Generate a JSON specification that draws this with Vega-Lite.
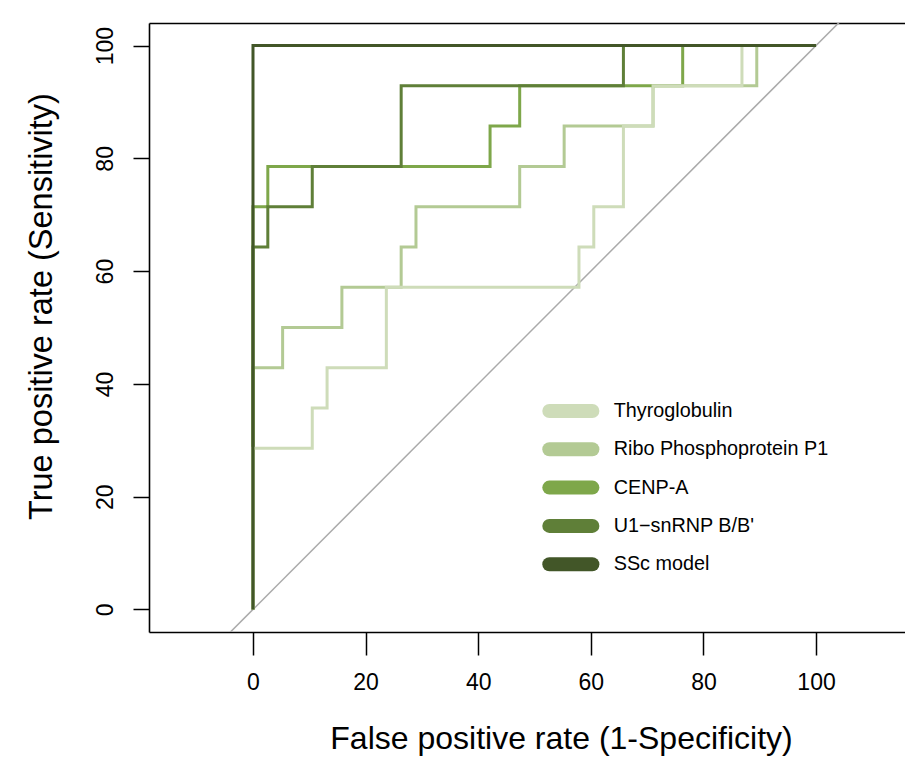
{
  "$schema": "https://vega.github.io/schema/vega-lite/v6.json",
  "width": 756,
  "height": 609,
  "autosize": {"type": "none"},
  "padding": {"left": 149, "top": 23, "right": 0, "bottom": 139},
  "background": "white",
  "config": {
    "view": {"stroke": null},
    "font": "Liberation Sans",
    "axis": {"grid": false, "labelColor": "black", "titleColor": "black", "titleFontWeight": "normal", "domainColor": "black", "tickColor": "black"}
  },
  "layer": [
    {
      "data": {"values": [{"fpr": -20, "tpr": -20}, {"fpr": 120, "tpr": 120}]},
      "mark": {"type": "line", "color": "#aaaaaa", "strokeWidth": 1.5, "clip": true},
      "encoding": {
        "x": {
          "field": "fpr", "type": "quantitative",
          "scale": {"domain": [-18.47, 115.8], "nice": false, "zero": false},
          "axis": {"orient": "top", "domain": true, "domainWidth": 1.6, "ticks": false, "labels": false, "title": null}
        },
        "y": {
          "field": "tpr", "type": "quantitative",
          "scale": {"domain": [-4, 104], "nice": false, "zero": false},
          "axis": {
            "orient": "left", "values": [0, 20, 40, 60, 80, 100], "domain": true, "domainWidth": 1.6,
            "tickSize": 16, "tickWidth": 1.5, "labelFontSize": 23, "labelAngle": 270,
            "labelAlign": "center", "labelBaseline": "alphabetic", "labelPadding": 21,
            "title": "True positive rate (Sensitivity)", "titleFontSize": 32.5, "titlePadding": 36,
            "titleY": 283
          }
        }
      }
    },
    {
      "data": {
        "values": [
          {"s": "Ribo Phosphoprotein P1", "i": 0, "fpr": 0, "tpr": 0},
          {"s": "Ribo Phosphoprotein P1", "i": 1, "fpr": 0, "tpr": 42.857},
          {"s": "Ribo Phosphoprotein P1", "i": 2, "fpr": 5.263, "tpr": 42.857},
          {"s": "Ribo Phosphoprotein P1", "i": 3, "fpr": 5.263, "tpr": 50},
          {"s": "Ribo Phosphoprotein P1", "i": 4, "fpr": 15.789, "tpr": 50},
          {"s": "Ribo Phosphoprotein P1", "i": 5, "fpr": 15.789, "tpr": 57.143},
          {"s": "Ribo Phosphoprotein P1", "i": 6, "fpr": 26.316, "tpr": 57.143},
          {"s": "Ribo Phosphoprotein P1", "i": 7, "fpr": 26.316, "tpr": 64.286},
          {"s": "Ribo Phosphoprotein P1", "i": 8, "fpr": 28.947, "tpr": 64.286},
          {"s": "Ribo Phosphoprotein P1", "i": 9, "fpr": 28.947, "tpr": 71.429},
          {"s": "Ribo Phosphoprotein P1", "i": 10, "fpr": 47.368, "tpr": 71.429},
          {"s": "Ribo Phosphoprotein P1", "i": 11, "fpr": 47.368, "tpr": 78.571},
          {"s": "Ribo Phosphoprotein P1", "i": 12, "fpr": 55.263, "tpr": 78.571},
          {"s": "Ribo Phosphoprotein P1", "i": 13, "fpr": 55.263, "tpr": 85.714},
          {"s": "Ribo Phosphoprotein P1", "i": 14, "fpr": 71.053, "tpr": 85.714},
          {"s": "Ribo Phosphoprotein P1", "i": 15, "fpr": 71.053, "tpr": 92.857},
          {"s": "Ribo Phosphoprotein P1", "i": 16, "fpr": 89.474, "tpr": 92.857},
          {"s": "Ribo Phosphoprotein P1", "i": 17, "fpr": 89.474, "tpr": 100},
          {"s": "Ribo Phosphoprotein P1", "i": 18, "fpr": 100, "tpr": 100},
          {"s": "CENP-A", "i": 0, "fpr": 0, "tpr": 0},
          {"s": "CENP-A", "i": 1, "fpr": 0, "tpr": 71.429},
          {"s": "CENP-A", "i": 2, "fpr": 2.632, "tpr": 71.429},
          {"s": "CENP-A", "i": 3, "fpr": 2.632, "tpr": 78.571},
          {"s": "CENP-A", "i": 4, "fpr": 42.105, "tpr": 78.571},
          {"s": "CENP-A", "i": 5, "fpr": 42.105, "tpr": 85.714},
          {"s": "CENP-A", "i": 6, "fpr": 47.368, "tpr": 85.714},
          {"s": "CENP-A", "i": 7, "fpr": 47.368, "tpr": 92.857},
          {"s": "CENP-A", "i": 8, "fpr": 76.316, "tpr": 92.857},
          {"s": "CENP-A", "i": 9, "fpr": 76.316, "tpr": 100},
          {"s": "CENP-A", "i": 10, "fpr": 100, "tpr": 100},
          {"s": "U1−snRNP B/B'", "i": 0, "fpr": 0, "tpr": 0},
          {"s": "U1−snRNP B/B'", "i": 1, "fpr": 0, "tpr": 64.286},
          {"s": "U1−snRNP B/B'", "i": 2, "fpr": 2.632, "tpr": 64.286},
          {"s": "U1−snRNP B/B'", "i": 3, "fpr": 2.632, "tpr": 71.429},
          {"s": "U1−snRNP B/B'", "i": 4, "fpr": 10.526, "tpr": 71.429},
          {"s": "U1−snRNP B/B'", "i": 5, "fpr": 10.526, "tpr": 78.571},
          {"s": "U1−snRNP B/B'", "i": 6, "fpr": 26.316, "tpr": 78.571},
          {"s": "U1−snRNP B/B'", "i": 7, "fpr": 26.316, "tpr": 92.857},
          {"s": "U1−snRNP B/B'", "i": 8, "fpr": 65.789, "tpr": 92.857},
          {"s": "U1−snRNP B/B'", "i": 9, "fpr": 65.789, "tpr": 100},
          {"s": "U1−snRNP B/B'", "i": 10, "fpr": 100, "tpr": 100},
          {"s": "Thyroglobulin", "i": 0, "fpr": 0, "tpr": 0},
          {"s": "Thyroglobulin", "i": 1, "fpr": 0, "tpr": 28.571},
          {"s": "Thyroglobulin", "i": 2, "fpr": 10.526, "tpr": 28.571},
          {"s": "Thyroglobulin", "i": 3, "fpr": 10.526, "tpr": 35.714},
          {"s": "Thyroglobulin", "i": 4, "fpr": 13.158, "tpr": 35.714},
          {"s": "Thyroglobulin", "i": 5, "fpr": 13.158, "tpr": 42.857},
          {"s": "Thyroglobulin", "i": 6, "fpr": 23.684, "tpr": 42.857},
          {"s": "Thyroglobulin", "i": 7, "fpr": 23.684, "tpr": 57.143},
          {"s": "Thyroglobulin", "i": 8, "fpr": 57.895, "tpr": 57.143},
          {"s": "Thyroglobulin", "i": 9, "fpr": 57.895, "tpr": 64.286},
          {"s": "Thyroglobulin", "i": 10, "fpr": 60.526, "tpr": 64.286},
          {"s": "Thyroglobulin", "i": 11, "fpr": 60.526, "tpr": 71.429},
          {"s": "Thyroglobulin", "i": 12, "fpr": 65.789, "tpr": 71.429},
          {"s": "Thyroglobulin", "i": 13, "fpr": 65.789, "tpr": 85.714},
          {"s": "Thyroglobulin", "i": 14, "fpr": 71.053, "tpr": 85.714},
          {"s": "Thyroglobulin", "i": 15, "fpr": 71.053, "tpr": 92.857},
          {"s": "Thyroglobulin", "i": 16, "fpr": 86.842, "tpr": 92.857},
          {"s": "Thyroglobulin", "i": 17, "fpr": 86.842, "tpr": 100},
          {"s": "Thyroglobulin", "i": 18, "fpr": 100, "tpr": 100},
          {"s": "SSc model", "i": 0, "fpr": 0, "tpr": 0},
          {"s": "SSc model", "i": 1, "fpr": 0, "tpr": 100},
          {"s": "SSc model", "i": 2, "fpr": 100, "tpr": 100}
        ]
      },
      "mark": {"type": "line", "strokeWidth": 3, "clip": true},
      "encoding": {
        "x": {
          "field": "fpr", "type": "quantitative",
          "scale": {"domain": [-18.47, 115.8], "nice": false, "zero": false},
          "axis": {
            "orient": "bottom", "values": [0, 20, 40, 60, 80, 100], "domain": true, "domainWidth": 1.6,
            "tickSize": 23, "tickWidth": 1.5, "labelFontSize": 23, "labelPadding": 16,
            "title": "False positive rate (1-Specificity)", "titleFontSize": 32, "titlePadding": 29,
            "titleX": 412
          }
        },
        "y": {
          "field": "tpr", "type": "quantitative",
          "scale": {"domain": [-4, 104], "nice": false, "zero": false}
        },
        "color": {
          "field": "s", "type": "nominal",
          "scale": {
            "domain": ["Thyroglobulin", "Ribo Phosphoprotein P1", "CENP-A", "U1−snRNP B/B'", "SSc model"],
            "range": ["#cedcb9", "#b3ca94", "#7ea74a", "#5f7f38", "#425628"]
          },
          "legend": {
            "orient": "none", "legendX": 393, "legendY": 378, "title": null, "padding": 0,
            "symbolType": "M-1,0L15,0", "symbolSize": 29, "symbolStrokeWidth": 14,
            "labelFontSize": 19.8, "labelColor": "black", "labelOffset": 51.7, "labelLimit": 400,
            "rowPadding": 18.3,
            "encode": {"symbols": {"update": {"strokeCap": {"value": "round"}, "strokeJoin": {"value": "round"}, "strokeWidth": {"value": 14}}}}
          }
        },
        "order": {"field": "i", "type": "quantitative"}
      }
    }
  ],
  "resolve": {"axis": {"x": "independent"}}
}
